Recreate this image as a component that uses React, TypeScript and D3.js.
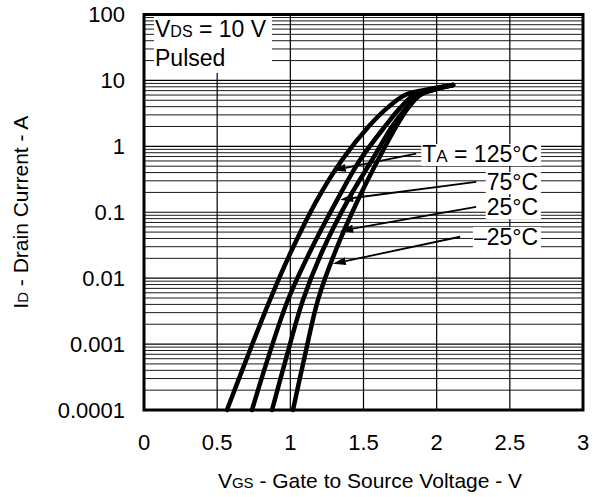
import React, { useEffect, useRef } from 'react';
import * as d3 from 'd3';

const W = 597;
const H = 497;
const FONT = '"Liberation Sans", Arial, Helvetica, sans-serif';

const xTicks = [0, 0.5, 1, 1.5, 2, 2.5, 3];
const xTickLabels = ['0', '0.5', '1', '1.5', '2', '2.5', '3'];
const yTicks = [100, 10, 1, 0.1, 0.01, 0.001, 0.0001];
const yTickLabels = ['100', '10', '1', '0.1', '0.01', '0.001', '0.0001'];

const idLevels = [1e-4, 6.8e-4, 4.7e-3, 0.027, 0.153, 0.62, 2.1, 3.8, 6.0, 7.15, 8.5];
const vgs125 = [0.567, 0.711, 0.861, 1.011, 1.182, 1.353, 1.544, 1.661, 1.784, 1.92, 2.112];
const vgs75 = [0.738, 0.854, 0.984, 1.141, 1.319, 1.476, 1.654, 1.749, 1.845, 1.954, 2.112];
const vgs25 = [0.875, 0.977, 1.087, 1.223, 1.394, 1.558, 1.702, 1.79, 1.879, 1.968, 2.112];
const vgsM25 = [1.018, 1.1, 1.189, 1.312, 1.462, 1.599, 1.729, 1.804, 1.886, 1.975, 2.112];

const curves = [vgs125, vgs75, vgs25, vgsM25];

// temperature callouts: label text, label centre (I), arrow start V, arrow tip (V, I)
const tempLabels = ['125°C', '75°C', '25°C', '\u201325°C'];
const labelI = [0.774, 0.29, 0.121, 0.0425];
const labelEndV = 2.693;
const arrowFromV = [1.86, 2.27, 2.27, 2.16];
const arrowTipV = [1.29, 1.34, 1.34, 1.29];
const arrowTipI = [0.43, 0.155, 0.052, 0.0165];

const App = () => {
  const ref = useRef<SVGSVGElement>(null);

  useEffect(() => {
    if (!ref.current) return;
    const svg = d3.select(ref.current);
    svg.selectAll('*').remove();

    const x = d3.scaleLinear().domain([0, 3]).range([144, 583]);
    const y = d3.scaleLog().domain([1e-4, 100]).range([410, 14.5]);

    // horizontal grid: minor then decades
    const minor: number[] = [];
    for (let d = 1e-4; d < 100; d *= 10) {
      for (let k = 2; k <= 9; k++) minor.push(k * d);
    }
    svg.append('g').selectAll('line').data(minor).enter().append('line')
      .attr('x1', x(0)).attr('x2', x(3))
      .attr('y1', (d) => y(d)).attr('y2', (d) => y(d))
      .attr('stroke', '#1a1a1a').attr('stroke-width', 1);
    svg.append('g').selectAll('line').data(yTicks).enter().append('line')
      .attr('x1', x(0)).attr('x2', x(3))
      .attr('y1', (d) => y(d)).attr('y2', (d) => y(d))
      .attr('stroke', '#000').attr('stroke-width', 1.2);
    svg.append('g').selectAll('line').data(xTicks.slice(1, -1)).enter().append('line')
      .attr('x1', (d) => x(d)).attr('x2', (d) => x(d))
      .attr('y1', y(100)).attr('y2', y(1e-4))
      .attr('stroke', '#000').attr('stroke-width', 1.2);

    // VDS / Pulsed box
    const box = svg.append('g').attr('font-family', FONT).attr('font-size', 23);
    box.append('rect').attr('fill', '#fff')
      .attr('x', 154).attr('y', 16).attr('width', 118).attr('height', 57);
    const t1 = box.append('text').attr('x', 155).attr('y', 37);
    t1.append('tspan').text('V');
    t1.append('tspan').attr('font-size', 16).text('DS');
    t1.append('tspan').text(' = 10 V');
    box.append('text').attr('x', 155).attr('y', 66).text('Pulsed');

    // curves
    const line = d3.line<[number, number]>()
      .x((d) => x(d[0])).y((d) => y(d[1]))
      .curve(d3.curveCatmullRom.alpha(0.5));
    curves.forEach((vs) => {
      const pts = vs.map((v, k) => [v, idLevels[k]] as [number, number]);
      svg.append('path').attr('d', line(pts))
        .attr('fill', 'none').attr('stroke', '#000')
        .attr('stroke-width', 4.5).attr('stroke-linecap', 'round');
    });

    // temperature labels with arrows
    const lab = svg.append('g').attr('font-family', FONT).attr('font-size', 23);
    tempLabels.forEach((t, k) => {
      const g = lab.append('g');
      const bg = g.append('rect').attr('fill', '#fff');
      const tx = g.append('text')
        .attr('x', x(labelEndV)).attr('y', y(labelI[k])).attr('dy', '0.36em')
        .attr('text-anchor', 'end');
      if (k === 0) {
        tx.append('tspan').text('T');
        tx.append('tspan').attr('font-size', 17).text('A');
        tx.append('tspan').text(' = ' + t);
      } else {
        tx.text(t);
      }
      const bb = (tx.node() as SVGTextElement).getBBox();
      bg.attr('x', bb.x - 1).attr('y', bb.y + 3).attr('width', bb.width + 4).attr('height', bb.height - 4);

      const x0 = x(arrowFromV[k]);
      const y0 = y(labelI[k]);
      const x1 = x(arrowTipV[k]);
      const y1 = y(arrowTipI[k]);
      const ang = Math.atan2(y1 - y0, x1 - x0);
      const len = 13;
      const half = 4;
      const bx = x1 - len * Math.cos(ang);
      const by = y1 - len * Math.sin(ang);
      g.append('line')
        .attr('x1', x0).attr('y1', y0).attr('x2', bx).attr('y2', by)
        .attr('stroke', '#000').attr('stroke-width', 1.8);
      const px = -Math.sin(ang) * half;
      const py = Math.cos(ang) * half;
      g.append('path')
        .attr('d', `M${x1},${y1}L${bx + px},${by + py}L${bx - px},${by - py}Z`)
        .attr('fill', '#000');
    });

    // plot frame
    svg.append('rect')
      .attr('x', x(0)).attr('y', y(100))
      .attr('width', x(3) - x(0)).attr('height', y(1e-4) - y(100))
      .attr('fill', 'none').attr('stroke', '#000').attr('stroke-width', 3);

    // tick labels
    const ticks = svg.append('g').attr('font-family', FONT).attr('font-size', 22).attr('fill', '#000');
    ticks.selectAll('.yl').data(yTicks).enter().append('text')
      .attr('x', 125).attr('y', (d) => y(d)).attr('dy', '0.36em')
      .attr('text-anchor', 'end')
      .text((d, k) => yTickLabels[k]);
    ticks.selectAll('.xl').data(xTicks).enter().append('text')
      .attr('x', (d) => x(d)).attr('y', 450)
      .attr('text-anchor', 'middle')
      .text((d, k) => xTickLabels[k]);

    // axis titles
    const xt = svg.append('text').attr('font-family', FONT).attr('font-size', 21)
      .attr('x', 370).attr('y', 488).attr('text-anchor', 'middle');
    xt.append('tspan').text('V');
    xt.append('tspan').attr('font-size', 15).text('GS');
    xt.append('tspan').text(' - Gate to Source Voltage - V');

    const yt = svg.append('text').attr('font-family', FONT).attr('font-size', 21)
      .attr('transform', `translate(28,${(y(100) + y(1e-4)) / 2}) rotate(-90)`)
      .attr('text-anchor', 'middle');
    yt.append('tspan').text('I');
    yt.append('tspan').attr('font-size', 15).text('D');
    yt.append('tspan').text(' - Drain Current - A');
  }, []);

  return (
    <svg ref={ref} width={W} height={H}
      style={{ position: 'absolute', left: 0, top: 0, background: '#fff' }} />
  );
};

export default App;
